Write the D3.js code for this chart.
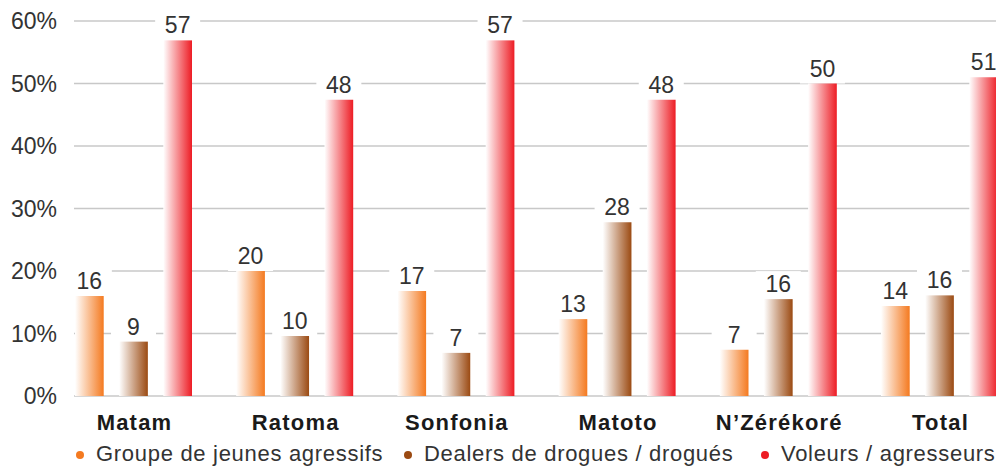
<!DOCTYPE html>
<html>
<head>
<meta charset="utf-8">
<script src="https://cdn.jsdelivr.net/npm/d3@7"></script>
<style>
  html, body { margin: 0; padding: 0; background: #fff; }
  svg { display: block; }
</style>
</head>
<body>
<svg id="chart" width="996" height="468"></svg>
<script>
const categories = ["Matam", "Ratoma", "Sonfonia", "Matoto", "N’Zérékoré", "Total"];
const seriesNames = ["Groupe de jeunes agressifs", "Dealers de drogues / drogués", "Voleurs / agresseurs"];
const groupeJeunes = [16.0, 20.0, 16.8, 12.3, 7.4, 14.4];
const dealers = [8.7, 9.6, 6.9, 27.8, 15.5, 16.1];
const voleurs = [56.9, 47.4, 56.9, 47.4, 50.0, 51.0];
const groupeJeunesLabels = ["16", "20", "17", "13", "7", "14"];
const dealersLabels = ["9", "10", "7", "28", "16", "16"];
const voleursLabels = ["57", "48", "57", "48", "50", "51"];
const yTicks = [0, 10, 20, 30, 40, 50, 60];
const colors = ["#f47a20", "#9b4a12", "#ed1c24"];

const seriesValues = [groupeJeunes, dealers, voleurs];
const seriesLabels = [groupeJeunesLabels, dealersLabels, voleursLabels];

const svg = d3.select("#chart");
const font = "'Liberation Sans', Arial, Helvetica, sans-serif";

const y = d3.scaleLinear().domain([0, 60]).range([396, 21]);
const x0 = d3.scaleBand().domain(categories).range([75, 75 + 161.2 * 6]).padding(0);
const x1 = d3.scaleBand().domain(d3.range(3)).range([0, 117]).paddingInner(0.35).paddingOuter(0);

// gradients
const defs = svg.append("defs");
colors.forEach((c, i) => {
  const g = defs.append("linearGradient").attr("id", "grad" + i)
    .attr("x1", "0%").attr("x2", "100%").attr("y1", "0%").attr("y2", "0%");
  g.append("stop").attr("offset", "0%").attr("stop-color", "#ffffff");
  g.append("stop").attr("offset", "100%").attr("stop-color", c);
});

// gridlines
svg.append("g").selectAll("line").data(yTicks).join("line")
  .attr("x1", 74).attr("x2", 996)
  .attr("y1", d => y(d)).attr("y2", d => y(d))
  .attr("stroke", "#c8c8c8").attr("stroke-width", 1.5);

// y tick labels
svg.append("g").selectAll("text").data(yTicks).join("text")
  .attr("x", 57).attr("y", d => y(d) + 8)
  .attr("text-anchor", "end")
  .attr("font-family", font).attr("font-size", 23).attr("fill", "#333")
  .text(d => d + "%");

// bars
const rows = [];
categories.forEach((cat, ci) => {
  seriesValues.forEach((vals, si) => {
    rows.push({ cat, si, v: vals[ci], label: seriesLabels[si][ci] });
  });
});

const bars = svg.append("g");
bars.selectAll("rect.lblbg").data(rows).join("rect")
  .attr("class", "lblbg")
  .attr("x", d => x0(d.cat) + x1(d.si) + x1.bandwidth() / 2 - 22.5)
  .attr("y", d => y(d.v) - 28)
  .attr("width", 45).attr("height", 28)
  .attr("fill", "#fff");

bars.selectAll("rect.bar").data(rows).join("rect")
  .attr("class", "bar")
  .attr("x", d => x0(d.cat) + x1(d.si))
  .attr("y", d => y(d.v))
  .attr("width", x1.bandwidth())
  .attr("height", d => y(0) - y(d.v))
  .attr("fill", d => `url(#grad${d.si})`);

bars.selectAll("text").data(rows).join("text")
  .attr("x", d => x0(d.cat) + x1(d.si) + x1.bandwidth() / 2)
  .attr("y", d => y(d.v) - 7)
  .attr("text-anchor", "middle")
  .attr("font-family", font).attr("font-size", 23).attr("fill", "#333")
  .text(d => d.label);

// category labels
svg.append("g").selectAll("text").data(categories).join("text")
  .attr("x", d => x0(d) + 59.5)
  .attr("y", 430)
  .attr("text-anchor", "middle")
  .attr("font-family", font).attr("font-size", 22).attr("font-weight", "bold")
  .attr("letter-spacing", 1.2)
  .attr("fill", "#1a1a1a")
  .text(d => d);

// legend
const legendX = [80, 408, 765];
const lg = svg.append("g").selectAll("g").data(seriesNames).join("g")
  .attr("transform", (d, i) => `translate(${legendX[i]},0)`);
lg.append("circle").attr("cx", 0).attr("cy", 455).attr("r", 4)
  .attr("fill", (d, i) => colors[i]);
lg.append("text").attr("x", 16).attr("y", 461)
  .attr("font-family", font).attr("font-size", 22).attr("fill", "#333")
  .attr("letter-spacing", 0.7)
  .text(d => d);
</script>
</body>
</html>
